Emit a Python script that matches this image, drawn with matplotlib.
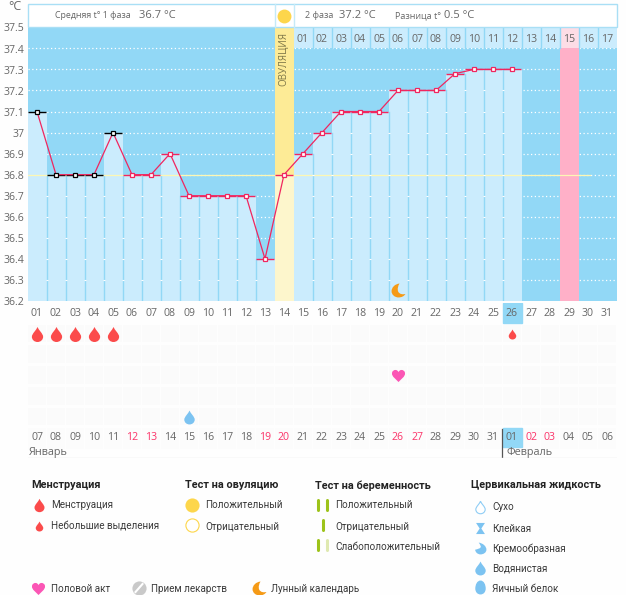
import matplotlib
matplotlib.use('Agg')
import matplotlib.pyplot as plt
from matplotlib.path import Path
from matplotlib.patches import Rectangle

plt.rcParams['font.family'] = ['Open Sans', 'DejaVu Sans']

# data
days = list(range(1, 32))
temps = [37.1, 36.8, 36.8, 36.8, 37.0, 36.8, 36.8, 36.9, 36.7, 36.7, 36.7, 36.7, 36.4,
         36.8, 36.9, 37.0, 37.1, 37.1, 37.1, 37.2, 37.2, 37.2, 37.28, 37.3, 37.3, 37.3]
black_days = [1, 2, 3, 4, 5]
y_ticks = [36.2, 36.3, 36.4, 36.5, 36.6, 36.7, 36.8, 36.9, 37.0, 37.1, 37.2, 37.3, 37.4, 37.5]
y_labels = ['36.2', '36.3', '36.4', '36.5', '36.6', '36.7', '36.8', '36.9', '37', '37.1', '37.2', '37.3', '37.4', '37.5']
cycle_labels = ['%02d' % d for d in days]
phase2_labels = ['%02d' % d for d in range(1, 18)]
date_labels = ['07', '08', '09', '10', '11', '12', '13', '14', '15', '16', '17', '18', '19', '20', '21', '22', '23',
               '24', '25', '26', '27', '28', '29', '30', '31', '01', '02', '03', '04', '05', '06']
weekend_labels = [5, 6, 12, 13, 19, 20, 26, 27]
ovulation_day = 14
pink_day = 29
today = 26
menses_days = [1, 2, 3, 4, 5]
spotting_days = [26]
sex_days = [20]
water_days = [9]
moon_days = [20]

BG = '#92d8f6'
BAR = '#cbecfd'
RED = '#f0265f'
GREY = '#666666'
W, H = 626, 595


def mk(*segs):
    # first point is a moveto, the rest go as cubic curves
    verts = [segs[0]]
    codes = [Path.MOVETO]
    for p in segs[1:]:
        verts.append(p)
        codes.append(Path.CURVE4)
    return Path(verts, codes)


drop = mk((0, 1), (0.15, 0.6), (0.75, 0.1), (0.75, -0.3), (0.75, -0.72), (0.4, -1), (0, -1),
          (-0.4, -1), (-0.75, -0.72), (-0.75, -0.3), (-0.75, 0.1), (-0.15, 0.6), (0, 1))
heart = mk((0, -1), (-0.4, -0.55), (-1, -0.2), (-1, 0.3), (-1, 0.75), (-0.65, 0.85), (-0.45, 0.85),
           (-0.2, 0.85), (-0.05, 0.65), (0, 0.5), (0.05, 0.65), (0.2, 0.85), (0.45, 0.85),
           (0.65, 0.85), (1, 0.75), (1, 0.3), (1, -0.2), (0.4, -0.55), (0, -1))
moon = mk((0.15, 1), (-0.5, 0.95), (-1, 0.45), (-1, -0.1), (-1, -0.65), (-0.5, -1), (0, -1),
          (0.4, -1), (0.8, -0.85), (1, -0.5), (0.6, -0.6), (0.15, -0.55), (-0.05, -0.15),
          (-0.2, 0.25), (-0.05, 0.7), (0.15, 1))
glass = Path([(-0.8, 1), (0.8, 1), (0.15, 0), (0.8, -1), (-0.8, -1), (-0.15, 0), (-0.8, 1)])
egg = mk((0, 1), (0.5, 1), (0.75, 0.4), (0.75, -0.15), (0.75, -0.7), (0.4, -1), (0, -1),
         (-0.4, -1), (-0.75, -0.7), (-0.75, -0.15), (-0.75, 0.4), (-0.5, 1), (0, 1))
cream = mk((-0.3, 1), (0.4, 0.9), (1, 0.4), (1, -0.2), (1, -0.7), (0.5, -1), (0, -1),
           (-0.5, -1), (-0.9, -0.6), (-0.9, -0.2), (-0.5, -0.1), (0.1, 0), (0.05, 0.35),
           (0, 0.6), (-0.2, 0.8), (-0.3, 1))


def px_axes(x0, y0, x1, y1):
    return fig.add_axes([x0 / W, 1 - y1 / H, (x1 - x0) / W, (y1 - y0) / H])


fig = plt.figure(figsize=(W / 100, H / 100), dpi=100, facecolor='#fefefe')

# overlay in pixels, for the header and legend
ov = fig.add_axes([0, 0, 1, 1], zorder=5)
ov.set_xlim(0, W)
ov.set_ylim(H, 0)
ov.axis('off')
ov.patch.set_alpha(0)

# temperature chart
ax = px_axes(27.5, 27.3, 616.5, 301)
ax.set_xlim(0.5, 31.5)
ax.set_ylim(36.2, 37.5)
ax.set_facecolor(BG)
for s in ax.spines.values():
    s.set_visible(False)
ax.set_xticks([])
ax.set_yticks([])
for t, lab in zip(y_ticks, y_labels):
    ax.text(0.32, t - 0.008, lab, fontsize=7.6, color=GREY, ha='right', va='center', clip_on=False)

for t in y_ticks[1:-1]:
    ax.plot([0.5, 31.5], [t, t], color='white', lw=0.9, ls=(0, (1, 2)), zorder=1)

ax.bar(days[:len(temps)], [t - 36.2 for t in temps], bottom=36.2, width=1.0, color=BAR, zorder=2)

# phase 2 day numbers at the top of the chart
top_days = days[14:]
ax.bar(top_days, [0.1] * len(top_days), bottom=37.4, width=1.0, color=BAR, zorder=2)
for d, lab in zip(top_days, phase2_labels):
    ax.text(d, 37.44, lab, fontsize=7.6, color=GREY, ha='center', va='center', zorder=6)

# ovulation and pink columns
ax.bar([ovulation_day], [36.8 - 36.2], bottom=36.2, width=1.0, color='#fdf6cc', zorder=3)
ax.bar([ovulation_day], [37.5 - 36.8], bottom=36.8, width=1.0, color='#fdeb96', zorder=3)
ax.bar([pink_day], [37.4 - 36.2], bottom=36.2, width=1.0, color='#ffb0c8', zorder=3)
ax.bar([pink_day], [0.1], bottom=37.4, width=1.0, color='#fddde6', zorder=3)
ax.text(ovulation_day, 37.35, 'ОВУЛЯЦИЯ', rotation=90, fontsize=7, color='#7d7648', ha='center', va='center', zorder=6)

# column separators and the little white ticks on them
for d in days[:25]:
    if d == ovulation_day or d == ovulation_day - 1:
        continue
    top = min(temps[d - 1], temps[d])
    ax.plot([d + 0.5, d + 0.5], [36.2, top], color=BG, lw=1, zorder=3)
    for t in y_ticks[1:-1]:
        if t < top:
            ax.plot([d + 0.5], [t], marker='_', ms=1.5, mew=0.8, color='white', zorder=4)
for d in top_days[:-1]:
    ax.plot([d + 0.5, d + 0.5], [37.4, 37.5], color=BG, lw=1, zorder=3)

ax.plot([0.5, 30.1], [36.8, 36.8], color='#fdf7b4', lw=0.9, zorder=3.5)

# temperature marks
for d, t in zip(days, temps):
    c = 'black' if d in black_days else RED
    ax.plot([d - 0.5, d + 0.45], [t, t], color=c, lw=1, zorder=5, solid_capstyle='butt')
ax.plot(days[:len(temps)], temps, color=RED, lw=0.9, zorder=6)
for d, t in zip(days, temps):
    c = 'black' if d in black_days else RED
    ax.plot([d], [t], marker='s', ms=3.4, mfc='white', mec=c, mew=0.9, zorder=7)
for d in moon_days:
    ax.plot([d], [36.25], marker=moon, ms=10, color='#f59a16', mew=0, zorder=7)

# lower strip: rows are 0..4, day numbers sit on rows -1 and 5
ax2 = px_axes(27.5, 303, 616.5, 458)
ax2.set_xlim(0.5, 31.5)
ax2.set_ylim(5.976, -1.494)
ax2.axis('off')
for r in range(5):
    ax2.bar(days, [0.85] * 31, bottom=r - 0.45, width=0.92, color='#fbfbfb', zorder=1)
ax2.bar(days, [1.0] * 31, bottom=4.55, width=0.92, color='#fcfcfc', zorder=1)

ax2.add_patch(Rectangle((today - 0.5, -1.47), 1, 0.95, color=BG, zorder=2))
ax2.add_patch(Rectangle((today - 0.5, 4.53), 1, 0.92, color=BG, zorder=2))
ax2.plot([today - 0.55, today - 0.55], [4.6, 5.97], color='#555555', lw=0.9, zorder=3)
ax2.plot([0.5, 31.5], [5.96, 5.96], color='#e6e6e6', lw=1, zorder=3)

for d, lab in zip(days, cycle_labels):
    ax2.text(d, -0.99, lab, fontsize=7.6, color=GREY, ha='center', va='center', zorder=4)
for i, (d, lab) in enumerate(zip(days, date_labels)):
    c = '#fb3268' if i in weekend_labels else GREY
    ax2.text(d, 5.0, lab, fontsize=7.6, color=c, ha='center', va='center', zorder=4)
ax2.text(0.55, 5.72, 'Январь', fontsize=7.8, color=GREY, ha='left', va='center', zorder=4)
ax2.text(25.7, 5.72, 'Февраль', fontsize=7.8, color=GREY, ha='left', va='center', zorder=4)

ax2.plot(menses_days, [0] * len(menses_days), ls='', marker=drop, ms=10.8, color='#fb4b4b', mew=0, zorder=4)
ax2.plot(spotting_days, [0] * len(spotting_days), ls='', marker=drop, ms=7.2, color='#fb4b4b', mew=0, zorder=4)
ax2.plot(sex_days, [2] * len(sex_days), ls='', marker=heart, ms=9.4, color='#fb56b5', mew=0, zorder=4)
ax2.plot(water_days, [4] * len(water_days), ls='', marker=drop, ms=10, color='#7cc3f1', mew=0, zorder=4)

# header
ov.add_patch(Rectangle((27.5, 3.5), 589, 23.5, fc='white', ec='#a9dff5', lw=1))
ov.plot([274.5, 274.5], [3.5, 27], color='#c5eaf8', lw=1)
ov.plot([293.5, 293.5], [3.5, 27], color='#c5eaf8', lw=1)
ov.plot([284], [15.5], marker='o', ms=10, color='#fdd64b', mew=0)
hdr = [(55, 'Средняя t° 1 фаза', 6.4), (139, '36.7 °C', 8), (305, '2 фаза', 6.5), (339, '37.2 °C', 8),
       (395, 'Разница t°', 6.5), (444, '0.5 °C', 8)]
for x, s, fs in hdr:
    ov.text(x, 15.5, s, fontsize=fs, color=GREY, ha='left', va='center')
ov.text(15, 7, '°C', fontsize=9, color=GREY, ha='center', va='center')

# legend
TXT = '#3a3a3a'
for x, s in [(31, 'Менструация'), (185, 'Тест на овуляцию'), (315, 'Тест на беременность'), (471, 'Цервикальная жидкость')]:
    ov.text(x, 485.5, s, fontsize=7.8, color='#222222', weight='bold', family=['Roboto', 'DejaVu Sans'], ha='left', va='center')
items = [(51, 505, 'Менструация'), (51, 526, 'Небольшие выделения'), (205, 505, 'Положительный'), (205, 526, 'Отрицательный'),
         (335, 505, 'Положительный'), (335, 526, 'Отрицательный'), (335, 546, 'Слабоположительный'),
         (492, 507, 'Сухо'), (492, 528, 'Клейкая'), (492, 548, 'Кремообразная'), (492, 568, 'Водянистая'), (492, 588, 'Яичный белок'),
         (51, 588, 'Половой акт'), (151, 588, 'Прием лекарств'), (271, 588, 'Лунный календарь')]
for x, y, s in items:
    ov.text(x, y + 0.5, s, fontsize=7.15, color=TXT, family=['Roboto', 'DejaVu Sans'], ha='left', va='center')

ov.plot([38.5], [505], marker=drop, ms=9.6, color='#fb4b4b', mew=0)
ov.plot([38.5], [526], marker=drop, ms=7.2, color='#fb4b4b', mew=0)
ov.plot([192], [505], marker='o', ms=10.2, color='#fdd64b', mew=0)
ov.plot([192], [525], marker='o', ms=9.5, mfc='white', mec='#fdd64b', mew=0.8)
for x, y, c in [(317.5, 505, '#9dc31a'), (326.5, 505, '#9dc31a'), (322.5, 525, '#9dc31a'), (317.5, 545, '#9dc31a'), (326.5, 545, '#dfe9b0')]:
    ov.plot([x, x], [y - 5, y + 5], color=c, lw=2.2, solid_capstyle='round')
ov.plot([479.5], [507], marker=drop, ms=9, mfc='white', mec='#8fcdf5', mew=0.8)
ov.plot([479.5], [528], marker=glass, ms=8, color='#7cc3f1', mew=0)
ov.plot([479.5], [548], marker=cream, ms=8.5, color='#7cc3f1', mew=0)
ov.plot([479.5], [568], marker=drop, ms=10, color='#7cc3f1', mew=0)
ov.plot([479.5], [587], marker=egg, ms=10, color='#7cc3f1', mew=0)
ov.plot([37.5], [588], marker=heart, ms=9.4, color='#fb56b5', mew=0)
ov.plot([139], [588], marker='o', ms=10.2, color='#c9c9c9', mew=0)
ov.plot([135.5, 142.5], [592, 584], color='white', lw=1.5)
ov.plot([259], [588], marker=moon, ms=10, color='#f59a16', mew=0)

fig.savefig('out.png', dpi=100, facecolor=fig.get_facecolor())
